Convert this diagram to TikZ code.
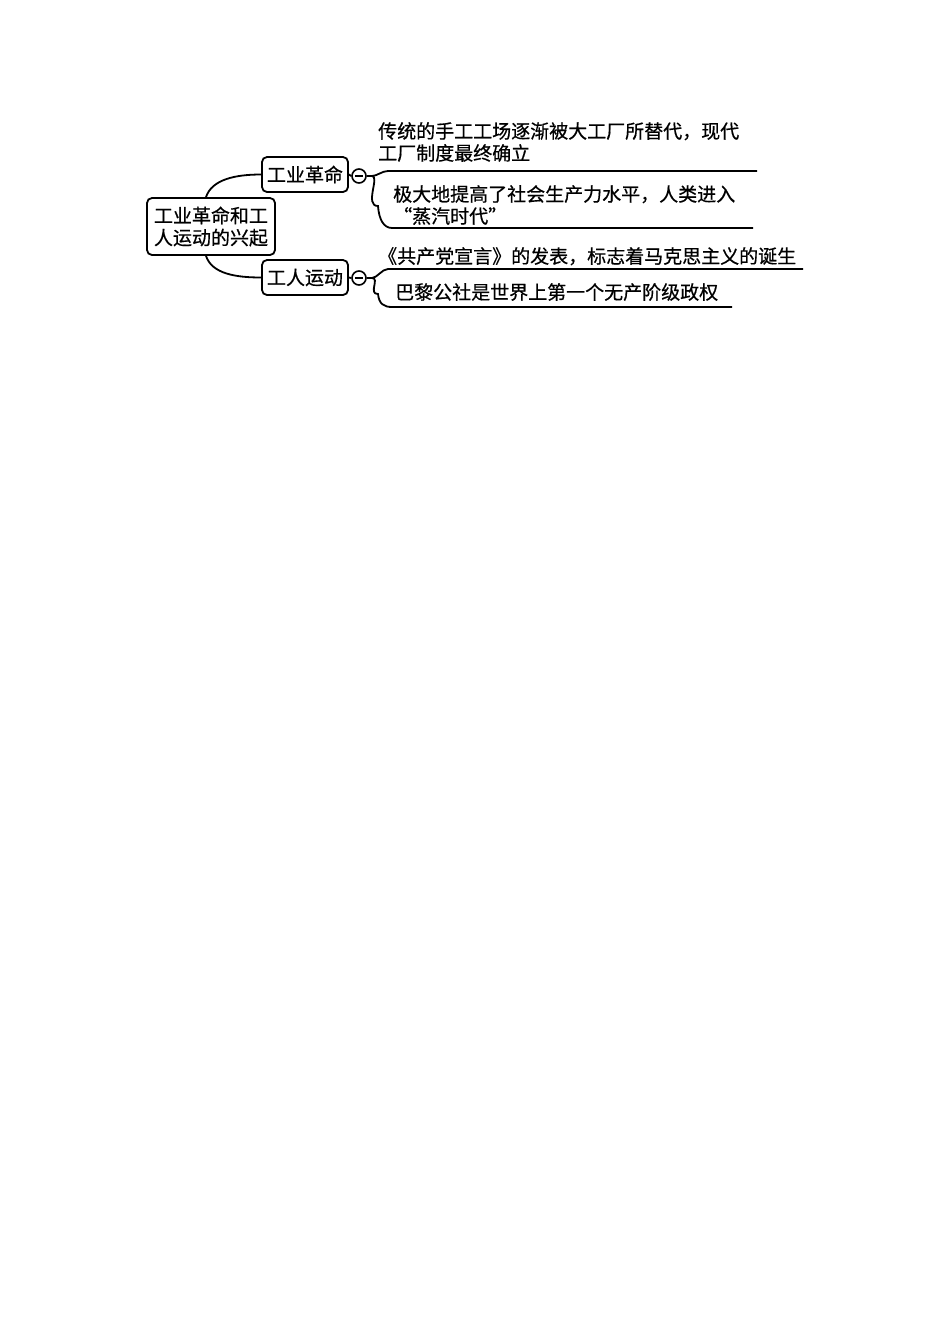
\documentclass[tikz,border=0pt]{standalone}
\usepackage{fontspec}
\usetikzlibrary{calc}
\newfontfamily\cjk[FakeBold=0.6]{Noto Sans CJK SC}
\begin{document}
\begin{tikzpicture}[x=1pt,y=-1pt,
  every node/.style={font=\cjk\fontsize{19}{22}\selectfont},
  topicbox/.style={draw,line width=1.8pt,rounded corners=5pt,inner sep=0pt,align=center},
  fold/.style={draw,circle,line width=1.6pt,minimum size=14pt,inner sep=0pt},
  link/.style={line width=1.8pt},
  leaftext/.style={anchor=north west,inner sep=0pt,align=left}]
\useasboundingbox[fill=white] (0,0) rectangle (950,1344);
% main nodes
\node[topicbox,minimum width=128pt,minimum height=57pt] (root) at (211,226.5) {工业革命和工\\人运动的兴起};
\node[topicbox,minimum width=86pt,minimum height=35pt] (b1) at (305,174.5) {工业革命};
\node[topicbox,minimum width=86pt,minimum height=35pt] (b2) at (305,277.5) {工人运动};
\node[fold] (c1) at (359,176) {};
\node[fold] (c2) at (359,278) {};
\draw[line width=1.6pt] ($(c1.center)+(-4,0)$) -- ($(c1.center)+(4,0)$);
\draw[line width=1.6pt] ($(c2.center)+(-4,0)$) -- ($(c2.center)+(4,0)$);
% root to branches
\draw[link] ($(root.north)+(-5,0)$) .. controls +(6,-18) and +(-25,0) .. (b1.west);
\draw[link] ($(root.south)+(-5,0)$) .. controls +(6,18) and +(-25,0) .. (b2.west);
\draw[link] (b1.east) -- (c1.west);
\draw[link] (b2.east) -- (c2.west);
% leaf texts
\node[leaftext] (t1) at (378,122) {传统的手工工场逐渐被大工厂所替代，现代\\工厂制度最终确立};
\node[leaftext] (t2) at (393,185) {极大地提高了社会生产力水平，人类进入\\“蒸汽时代”};
\node[leaftext] (t3) at (378,247) {《共产党宣言》的发表，标志着马克思主义的诞生};
\node[leaftext] (t4) at (395,283) {巴黎公社是世界上第一个无产阶级政权};
% underline coordinates
\coordinate (j1) at (372,176);
\coordinate (j2) at (372,278);
\coordinate (u1a) at (388,171); \coordinate (u1b) at (757,171);
\coordinate (u2a) at (392,228); \coordinate (u2b) at (753,228);
\coordinate (u3a) at (388,269); \coordinate (u3b) at (803,269);
\coordinate (u4a) at (392,307); \coordinate (u4b) at (732,307);
\draw[link] (c1.east) -- (j1) .. controls +(5,0) and +(-6,0) .. (u1a) -- (u1b);
\draw[link] (j1) .. controls +(8,0) and +(-14,0) .. ($(j1)+(6,30)$) .. controls +(1,14) and +(-8,0) .. (u2a) -- (u2b);
\draw[link] (c2.east) -- (j2) .. controls +(5,0) and +(-6,0) .. (u3a) -- (u3b);
\draw[link] (j2) .. controls +(8,0) and +(-10,0) .. ($(j2)+(6,16)$) .. controls +(1,10) and +(-8,0) .. (u4a) -- (u4b);
\end{tikzpicture}
\end{document}
